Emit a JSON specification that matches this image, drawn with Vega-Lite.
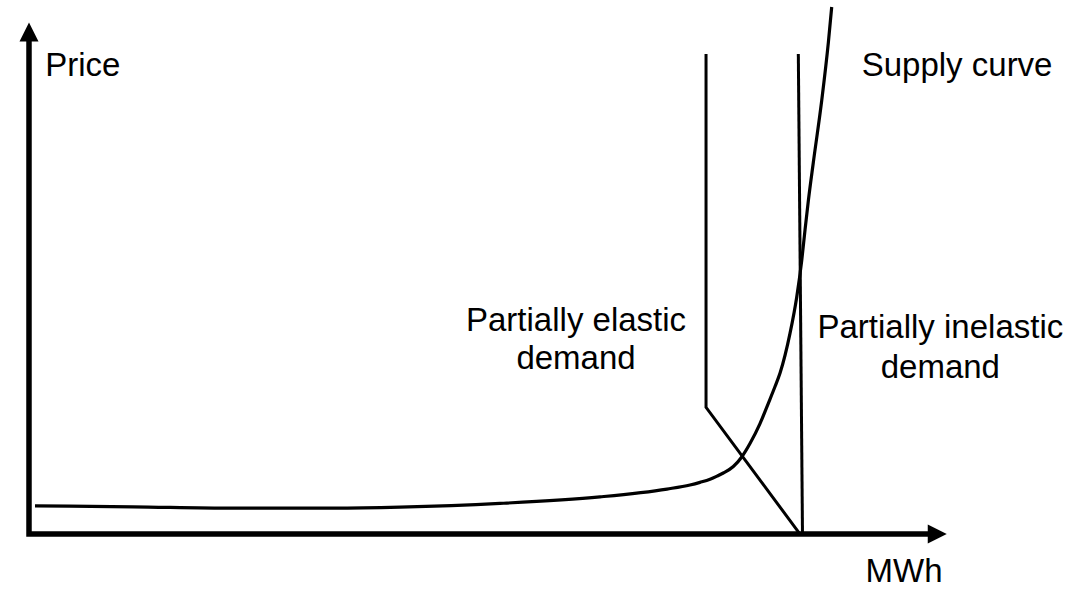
{
  "$schema": "https://vega.github.io/schema/vega-lite/v6.json",
  "autosize": {"type": "fit", "contains": "padding"},
  "width": 1089,
  "height": 589,
  "padding": 0,
  "background": "white",
  "config": {"view": {"stroke": null}},
  "datasets": {
    "axes": [
      {"ord": 1, "x": 0, "y": 103.3},
      {"ord": 2, "x": 0, "y": 0},
      {"ord": 3, "x": 116.9, "y": 0}
    ],
    "arrows": [
      {"dir": "up", "x": 0, "y": 104.8},
      {"dir": "right", "x": 117.8, "y": 0}
    ],
    "supply": [
      {"x": 0.78, "y": 5.9},
      {"x": 13.49, "y": 5.69},
      {"x": 26.46, "y": 5.4},
      {"x": 39.43, "y": 5.42},
      {"x": 48.12, "y": 5.63},
      {"x": 61.09, "y": 6.4},
      {"x": 74.06, "y": 7.77},
      {"x": 82.75, "y": 9.4},
      {"x": 85.73, "y": 10.25},
      {"x": 87.03, "y": 10.8},
      {"x": 88.33, "y": 11.45},
      {"x": 89.24, "y": 12.1},
      {"x": 90.05, "y": 12.75},
      {"x": 91.35, "y": 14.1},
      {"x": 92.44, "y": 16.1},
      {"x": 93.51, "y": 18.9},
      {"x": 94.81, "y": 23.06},
      {"x": 95.89, "y": 27.3},
      {"x": 96.76, "y": 30.8},
      {"x": 97.41, "y": 33.6},
      {"x": 98.7, "y": 41.88},
      {"x": 99.57, "y": 49.44},
      {"x": 100.22, "y": 57.08},
      {"x": 100.65, "y": 63.5},
      {"x": 101.08, "y": 69.58},
      {"x": 101.72, "y": 77.5},
      {"x": 102.81, "y": 90.42},
      {"x": 103.67, "y": 102.5},
      {"x": 104.11, "y": 110.0}
    ],
    "demand": [
      {"curve": "elastic", "ord": 1, "x": 87.81, "y": 100.2},
      {"curve": "elastic", "ord": 2, "x": 87.81, "y": 26.46},
      {"curve": "elastic", "ord": 3, "x": 100.0, "y": 0},
      {"curve": "inelastic", "ord": 1, "x": 99.78, "y": 100.2},
      {"curve": "inelastic", "ord": 2, "x": 100.32, "y": 0}
    ],
    "labelsLeft": [
      {"label": "Price", "x": 2.1, "y": 95.63},
      {"label": "Supply curve", "x": 108.0, "y": 95.63},
      {"label": "MWh", "x": 108.5, "y": -9.94}
    ],
    "labelsCenter": [
      {"label": "Partially elastic", "x": 70.95, "y": 42.3},
      {"label": "demand", "x": 70.95, "y": 34.4},
      {"label": "Partially inelastic", "x": 118.2, "y": 40.9},
      {"label": "demand", "x": 118.2, "y": 32.6}
    ]
  },
  "encoding": {
    "x": {"field": "x", "type": "quantitative", "axis": null, "scale": {"domain": [-3.761, 137.48], "nice": false, "zero": false}},
    "y": {"field": "y", "type": "quantitative", "axis": null, "scale": {"domain": [-11.458, 111.25], "nice": false, "zero": false}}
  },
  "layer": [
    {
      "data": {"name": "axes"},
      "mark": {"type": "line", "color": "black", "strokeWidth": 5.5, "strokeCap": "square", "strokeJoin": "miter"},
      "encoding": {"order": {"field": "ord", "type": "quantitative"}}
    },
    {
      "data": {"name": "arrows"},
      "transform": [{"filter": "datum.dir === 'up'"}],
      "mark": {"type": "point", "shape": "M0,-1L1,1L-1,1Z", "filled": true, "color": "black", "opacity": 1, "size": 361, "strokeWidth": 0}
    },
    {
      "data": {"name": "arrows"},
      "transform": [{"filter": "datum.dir === 'right'"}],
      "mark": {"type": "point", "shape": "M1,0L-1,-1L-1,1Z", "filled": true, "color": "black", "opacity": 1, "size": 361, "strokeWidth": 0}
    },
    {
      "data": {"name": "supply"},
      "mark": {"type": "line", "color": "black", "strokeWidth": 3.2, "interpolate": "monotone"}
    },
    {
      "data": {"name": "demand"},
      "mark": {"type": "line", "color": "black", "strokeWidth": 3, "strokeJoin": "miter"},
      "encoding": {
        "detail": {"field": "curve", "type": "nominal"},
        "order": {"field": "ord", "type": "quantitative"}
      }
    },
    {
      "data": {"name": "labelsLeft"},
      "mark": {"type": "text", "align": "left", "baseline": "alphabetic", "font": "Liberation Sans", "fontSize": 33, "color": "black"},
      "encoding": {"text": {"field": "label", "type": "nominal"}}
    },
    {
      "data": {"name": "labelsCenter"},
      "mark": {"type": "text", "align": "center", "baseline": "alphabetic", "font": "Liberation Sans", "fontSize": 33, "color": "black"},
      "encoding": {"text": {"field": "label", "type": "nominal"}}
    }
  ]
}
